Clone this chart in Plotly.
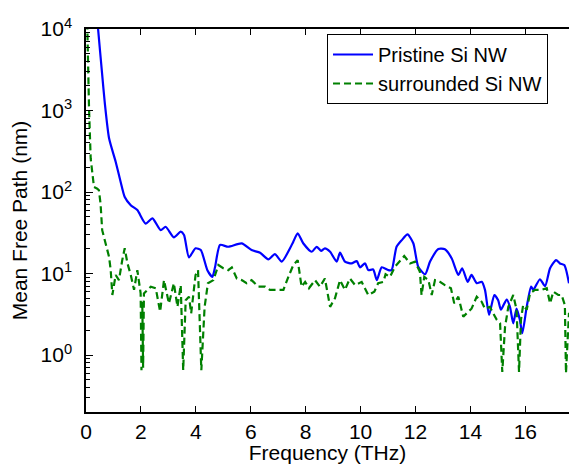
import plotly.graph_objects as go

# Pristine Si NW (solid blue)
pristine_freq = [0.40, 0.44, 0.59, 0.68, 0.84, 1.08, 1.26, 1.41, 1.63, 1.87, 2.17, 2.42, 2.72, 2.90,
                 3.20, 3.45, 3.57, 3.75, 3.99, 4.18, 4.42, 4.60, 4.70, 4.88, 5.18, 5.67, 6.03, 6.34,
                 6.64, 6.88, 7.13, 7.43, 7.55, 7.71, 7.91, 8.22, 8.40, 8.56, 8.70, 8.89, 9.13, 9.25,
                 9.43, 9.67, 9.86, 9.98, 10.16, 10.28, 10.46, 10.59, 10.77, 11.01, 11.13, 11.31, 11.50,
                 11.71, 11.92, 12.10, 12.35, 12.53, 12.83, 13.07, 13.32, 13.56, 13.70, 13.90, 14.04,
                 14.23, 14.41, 14.53, 14.68, 14.87, 15.01, 15.11, 15.32, 15.44, 15.56, 15.68, 15.80,
                 15.89, 16.05, 16.21, 16.29, 16.53, 16.72, 16.90, 17.12, 17.26, 17.42, 17.59]
pristine_mfp = [15000, 10000, 2740, 1282, 456, 235, 134, 87, 69, 60, 41, 47.5, 34, 37.5,
                27.8, 32.6, 29.7, 15.8, 20.4, 19.4, 11.0, 9.1, 12.0, 22.4, 21.3, 23.4, 19.4, 18.0,
                14.9, 17.3, 14.0, 20.4, 24.6, 31.1, 23.5, 18.5, 21.3, 19.0, 20.4, 18.5, 14.0, 18.0,
                14.0, 13.3, 14.2, 11.9, 13.3, 11.0, 11.2, 8.3, 11.9, 11.0, 11.0, 21.3, 25.7,
                30.2, 23.5, 12.1, 9.8, 14.0, 20.0, 19.8, 15.3, 9.6, 11.6, 7.9, 9.6,
                7.6, 7.9, 6.3, 3.1, 5.45, 4.7, 3.6, 4.8, 3.9, 2.45, 3.7, 2.7,
                1.85, 3.9, 6.9, 6.3, 8.5, 7.0, 11.6, 14.6, 13.3, 12.7, 7.6]

# Surrounded Si NW (dashed green)
surrounded_freq = [0.00, 0.05, 0.11, 0.17, 0.29, 0.41, 0.47, 0.53, 0.59, 0.72, 0.84, 0.90, 0.96, 1.08,
                   1.20, 1.32, 1.41, 1.51, 1.63, 1.75, 1.87, 1.99, 2.02, 2.05, 2.08, 2.11, 2.36, 2.54,
                   2.70, 2.84, 3.02, 3.20, 3.33, 3.45, 3.54, 3.63, 3.75, 3.83, 3.99, 4.08, 4.20, 4.32,
                   4.44, 4.64, 4.82, 5.00, 5.18, 5.31, 5.49, 5.67, 5.85, 6.03, 6.28, 6.52, 6.70, 6.94,
                   7.19, 7.37, 7.55, 7.71, 7.85, 7.98, 8.12, 8.34, 8.52, 8.70, 8.89, 9.07, 9.25, 9.43,
                   9.61, 9.80, 10.04, 10.28, 10.50, 10.64, 10.83, 10.91, 11.07, 11.25, 11.59, 11.80,
                   11.98, 12.16, 12.22, 12.32, 12.47, 12.59, 12.71, 12.89, 13.07, 13.29, 13.41, 13.56,
                   13.74, 13.92, 14.04, 14.23, 14.41, 14.53, 14.71, 14.83, 14.96, 15.08, 15.16, 15.26,
                   15.38, 15.56, 15.68, 15.77, 15.84, 15.92, 16.05, 16.17, 16.35, 16.59, 16.78, 16.90,
                   17.02, 17.20, 17.32, 17.44, 17.48, 17.59]
surrounded_mfp = [12000, 10000, 1070, 260, 115, 110, 105, 72, 34, 23.5, 16, 11, 5.45, 9.6,
                  8.3, 14.6, 20.4, 13.3, 9.6, 6.3, 11, 5.7, 0.65, 4.5, 0.7, 5.7, 6.9, 6.6,
                  3.4, 8.3, 4.3, 7.6, 3.9, 7.2, 0.65, 4.7, 5.2, 3.25, 9.6, 11.0, 0.65, 3.9,
                  7.6, 8.3, 12.7, 11.6, 11.0, 11.9, 8.7, 8.3, 7.6, 8.3, 6.9, 6.9, 6.3, 6.3,
                  6.3, 9.1, 12.7, 14.6, 6.9, 7.9, 6.6, 8.3, 6.9, 8.7, 3.9, 5.0, 8.3, 6.3,
                  8.7, 7.2, 7.9, 5.45, 6.0, 7.6, 7.9, 9.8, 9.1, 12.1, 16.4, 13.3,
                  14.0, 10.5, 5.45, 9.1, 8.3, 5.45, 8.3, 7.9, 7.2, 6.6, 4.3, 5.2,
                  2.95, 3.4, 3.7, 5.2, 4.5, 3.7, 3.9, 3.25, 2.7, 2.45, 0.62, 2.2,
                  3.9, 5.45, 3.6, 0.62, 2.7, 4.1, 3.6, 5.7, 6.3, 6.3, 6.6, 4.3,
                  6.0, 5.45, 5.45, 4.1, 0.6, 3.3]

x_tickvals = [0, 2, 4, 6, 8, 10, 12, 14, 16]
y_tickvals = [1, 10, 100, 1000, 10000]
y_ticktext = ["10<sup>0</sup>", "10<sup>1</sup>", "10<sup>2</sup>", "10<sup>3</sup>", "10<sup>4</sup>"]
y_minor_vals = [m * d for d in [0.1, 1, 10, 100, 1000] for m in range(2, 10)]

FONT = "Liberation Sans, Arial, Helvetica, sans-serif"

fig = go.Figure()
fig.add_trace(go.Scatter(
    x=pristine_freq, y=pristine_mfp, mode="lines", name="Pristine Si NW",
    line=dict(color="#0000FF", width=2.2, shape="spline", smoothing=0.6),
))
fig.add_trace(go.Scatter(
    x=surrounded_freq, y=surrounded_mfp, mode="lines", name="surrounded Si NW",
    line=dict(color="#008000", width=2.2, dash="7px,4px"),
))

fig.update_layout(
    width=569, height=464,
    margin=dict(l=86, r=0, t=29, b=52),
    plot_bgcolor="white", paper_bgcolor="white",
    font=dict(family=FONT, size=21, color="black"),
    showlegend=True,
    legend=dict(
        x=0.499, y=0.987, xanchor="left", yanchor="top",
        bgcolor="white", bordercolor="black", borderwidth=1,
        font=dict(family=FONT, size=20, color="black"),
        tracegroupgap=0, itemwidth=40,
    ),
    xaxis=dict(
        range=[0, 17.59], tickvals=x_tickvals, ticks="inside", ticklen=6,
        tickcolor="black", showline=True, linecolor="black", linewidth=1.5,
        mirror="ticks", showgrid=False, zeroline=False,
        title=dict(text="Frequency (THz)", font=dict(size=21), standoff=2),
        tickfont=dict(size=21),
    ),
    yaxis=dict(
        type="log", range=[-0.699, 4], tickvals=y_tickvals, ticktext=y_ticktext,
        ticks="inside", ticklen=7, tickcolor="black", showline=True,
        linecolor="black", linewidth=1.5, showgrid=False, zeroline=False,
        ticklabelstandoff=8,
        minor=dict(tickvals=y_minor_vals, ticks="inside", ticklen=4,
                   tickcolor="black", showgrid=False),
        title=dict(text="Mean Free Path (nm)", font=dict(size=21), standoff=7),
        tickfont=dict(size=21),
    ),
)

fig.write_html("out.html")
